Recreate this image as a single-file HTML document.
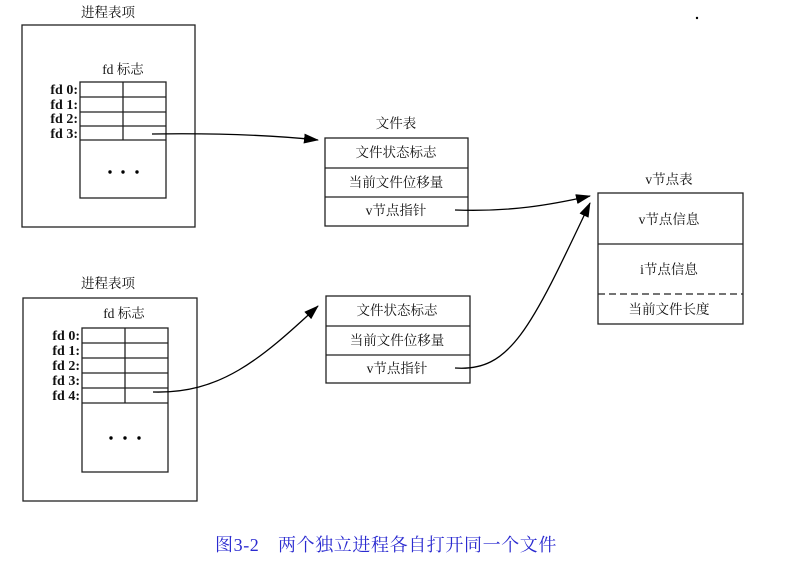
<!DOCTYPE html>
<html><head><meta charset="utf-8"><style>
html,body{margin:0;padding:0;background:#fff;}
svg{display:block;}
text{font-family:"Liberation Serif","Noto Serif CJK SC","Noto Sans CJK SC",serif;fill:#111;}
</style></head><body>
<svg width="796" height="564" viewBox="0 0 796 564" xmlns="http://www.w3.org/2000/svg">
<defs><marker id="a" markerWidth="15" markerHeight="10" refX="14" refY="5" orient="auto" markerUnits="userSpaceOnUse"><path d="M0,0 L15,5 L0,10 z" fill="#000"/></marker></defs>
<g stroke="#222" stroke-width="1.3" fill="none">
<rect x="22" y="25" width="173" height="202"/>
<rect x="80" y="82" width="86" height="116"/>
<line x1="80" y1="97" x2="166" y2="97"/><line x1="80" y1="112" x2="166" y2="112"/><line x1="80" y1="126" x2="166" y2="126"/><line x1="80" y1="140" x2="166" y2="140"/>
<line x1="123" y1="82" x2="123" y2="140"/>
<rect x="23" y="298" width="174" height="203"/>
<rect x="82" y="328" width="86" height="144"/>
<line x1="82" y1="343" x2="168" y2="343"/><line x1="82" y1="358" x2="168" y2="358"/><line x1="82" y1="373" x2="168" y2="373"/><line x1="82" y1="388" x2="168" y2="388"/><line x1="82" y1="403" x2="168" y2="403"/>
<line x1="125" y1="328" x2="125" y2="403"/>
<rect x="325" y="138" width="143" height="88"/>
<line x1="325" y1="168" x2="468" y2="168"/><line x1="325" y1="197" x2="468" y2="197"/>
<rect x="326" y="296" width="144" height="87"/>
<line x1="326" y1="326" x2="470" y2="326"/><line x1="326" y1="355" x2="470" y2="355"/>
<rect x="598" y="193" width="145" height="131"/>
<line x1="598" y1="244" x2="743" y2="244"/>
<line x1="598" y1="294" x2="743" y2="294" stroke-dasharray="7,4"/>
</g>
<g stroke="#000" stroke-width="1.3" fill="none">
<path d="M152,134 C220,133 270,135 318,140" marker-end="url(#a)"/>
<path d="M153,392 C220,394 260,360 318,306" marker-end="url(#a)"/>
<path d="M455,210 C510,212 550,205 590,196" marker-end="url(#a)"/>
<path d="M455,368 C510,372 530,330 590,203" marker-end="url(#a)"/>
</g>
<g fill="#000"><circle cx="110" cy="172" r="1.7"/><circle cx="123" cy="172" r="1.7"/><circle cx="137" cy="172" r="1.7"/>
<circle cx="111" cy="438" r="1.7"/><circle cx="125" cy="438" r="1.7"/><circle cx="139" cy="438" r="1.7"/>
<circle cx="697" cy="18" r="1.2"/></g>
<g font-size="13.5">
<text x="108" y="17" text-anchor="middle">进程表项</text>
<text x="123" y="74" text-anchor="middle">fd 标志</text>
<g font-weight="bold" text-anchor="end" font-size="14"><text x="78" y="94">fd 0:</text><text x="78" y="109">fd 1:</text><text x="78" y="123">fd 2:</text><text x="78" y="138">fd 3:</text>
<text x="80" y="340">fd 0:</text><text x="80" y="355">fd 1:</text><text x="80" y="370">fd 2:</text><text x="80" y="385">fd 3:</text><text x="80" y="400">fd 4:</text></g>
<text x="108" y="288" text-anchor="middle">进程表项</text>
<text x="124" y="318" text-anchor="middle">fd 标志</text>
<text x="396" y="128" text-anchor="middle">文件表</text>
<text x="396" y="157" text-anchor="middle">文件状态标志</text>
<text x="396" y="187" text-anchor="middle">当前文件位移量</text>
<text x="396" y="215" text-anchor="middle">v节点指针</text>
<text x="397" y="315" text-anchor="middle">文件状态标志</text>
<text x="397" y="345" text-anchor="middle">当前文件位移量</text>
<text x="397" y="373" text-anchor="middle">v节点指针</text>
<text x="669" y="184" text-anchor="middle">v节点表</text>
<text x="669" y="224" text-anchor="middle">v节点信息</text>
<text x="669" y="274" text-anchor="middle">i节点信息</text>
<text x="669" y="314" text-anchor="middle">当前文件长度</text>
</g>
<text x="215" y="551" font-size="18" letter-spacing="0.6" style="fill:#2a2ad0">图3-2　两个独立进程各自打开同一个文件</text>
</svg>
</body></html>
